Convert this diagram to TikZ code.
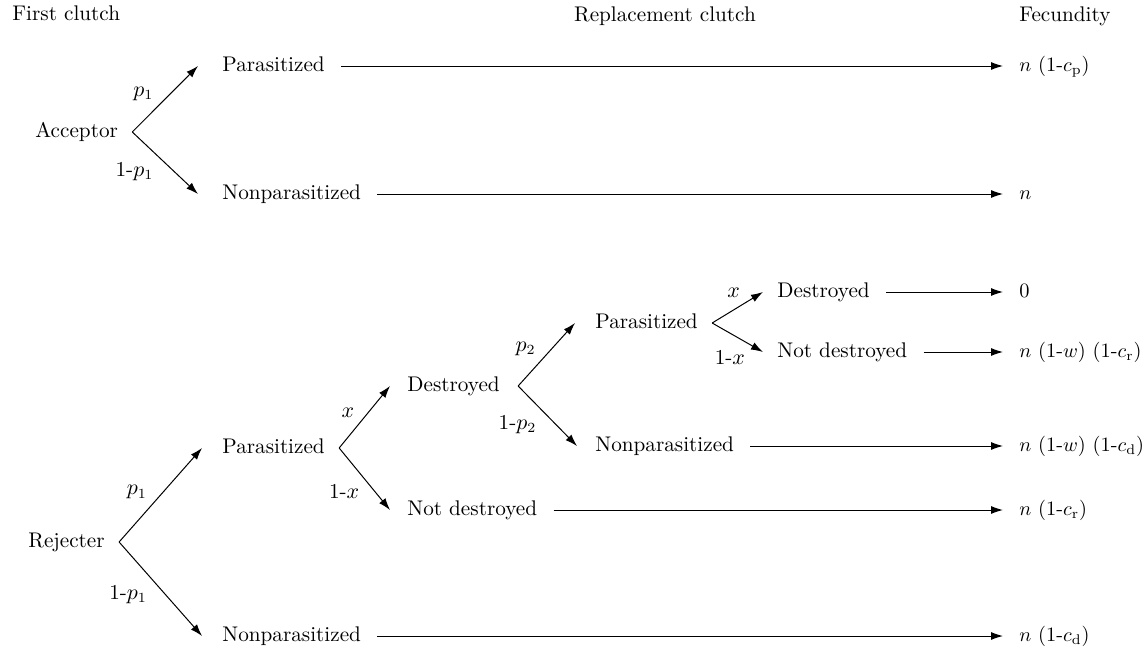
\documentclass[tikz,border=0pt]{standalone}
\usepackage{tikz}
\usetikzlibrary{arrows.meta, positioning}

\begin{document}
\begin{tikzpicture}[
  x=0.5pt, y=-0.5pt,
  font=\fontsize{10.6}{12}\selectfont,
  txt/.style={inner sep=0pt, text height=7pt, text depth=2pt, anchor=west},
  head/.style={txt},
  fec/.style={txt, font=\fontsize{10.2}{12}\selectfont},
  prob/.style={inner sep=1pt},
  arrow/.style={-{Latex[length=6pt, width=4pt]}, line width=0.5pt},
  lead/.style={arrow, shorten <=8pt, shorten >=8pt}
]
\useasboundingbox (0,0) rectangle (1146,653);

% column heads
\node[head] (hFirst) at (12,15) {First clutch};
\node[head, anchor=center] (hRepl) at (665,16) {Replacement clutch};
\node[head] (hFec) at (1019,16) {Fecundity};

% acceptor
\node[txt] (acc) at (35,132) {Acceptor};
\node[txt] (aPar) at (222,66) {Parasitized};
\node[txt] (aNon) at (222,194) {Nonparasitized};
\coordinate[right=7pt of acc] (accV);

% rejecter
\node[txt] (rej) at (28,542) {Rejecter};
\node[txt] (rPar) at (222,448) {Parasitized};
\node[txt] (rNon) at (222,636) {Nonparasitized};
\coordinate[right=7pt of rej] (rejV);
\coordinate[right=7pt of rPar] (rParV);

\node[txt] (dD) at (407,386) {Destroyed};
\node[txt] (dN) at (407,510) {Not destroyed};
\coordinate[right=9pt of dD] (dDV);

\node[txt] (pPar) at (595,323) {Parasitized};
\node[txt] (pNon) at (595,446) {Nonparasitized};
\coordinate[right=7pt of pPar] (pParV);

\node[txt] (xD) at (777,292) {Destroyed};
\node[txt] (xN) at (777,352) {Not destroyed};

% fecundity
\node[fec] (fP) at (1019,66) {$n$ (1-$c_\mathrm{p}$)};
\node[fec] (fN) at (1019,194) {$n$};
\node[fec] (fZero) at (1019,292) {0};
\node[fec] (fWR) at (1019,352) {$n$ (1-$w$) (1-$c_\mathrm{r}$)};
\node[fec] (fWD) at (1019,446) {$n$ (1-$w$) (1-$c_\mathrm{d}$)};
\node[fec] (fR) at (1019,510) {$n$ (1-$c_\mathrm{r}$)};
\node[fec] (fD) at (1019,636) {$n$ (1-$c_\mathrm{d}$)};

% branches
\draw[arrow] (accV) -- ([xshift=-12pt]aPar.west) node[pos=.4, above left=2pt, prob] {$p_1$};
\draw[arrow] (accV) -- ([xshift=-12pt]aNon.west) node[pos=.4, below left=2pt, prob] {1-$p_1$};
\draw[arrow] (rejV) -- ([xshift=-10pt]rPar.west) node[pos=.4, above left=2pt, prob] {$p_1$};
\draw[arrow] (rejV) -- ([xshift=-10pt]rNon.west) node[pos=.4, below left=2pt, prob] {1-$p_1$};
\draw[arrow] (rParV) -- ([xshift=-8.5pt]dD.west) node[pos=.4, above left=2pt, prob] {$x$};
\draw[arrow] (rParV) -- ([xshift=-8.5pt]dN.west) node[pos=.5, below left=2pt, prob] {1-$x$};
\draw[arrow] (dDV) -- ([xshift=-10pt]pPar.west) node[pos=.4, above left=2pt, prob] {$p_2$};
\draw[arrow] (dDV) -- ([xshift=-9pt]pNon.west) node[pos=.4, below left=2pt, prob] {1-$p_2$};
\draw[arrow] (pParV) -- ([xshift=-7pt]xD.west) node[pos=.65, above left=2pt, prob] {$x$};
\draw[arrow] (pParV) -- ([xshift=-7pt]xN.west) node[pos=.75, below left=2pt, prob] {1-$x$};

% leads to fecundity
\draw[lead] (aPar) -- (fP);
\draw[lead] (aNon) -- (fN);
\draw[lead] (xD) -- (fZero);
\draw[lead] (xN) -- (fWR);
\draw[lead] (pNon) -- (fWD);
\draw[lead] (dN) -- (fR);
\draw[lead] (rNon) -- (fD);

\end{tikzpicture}
\end{document}
